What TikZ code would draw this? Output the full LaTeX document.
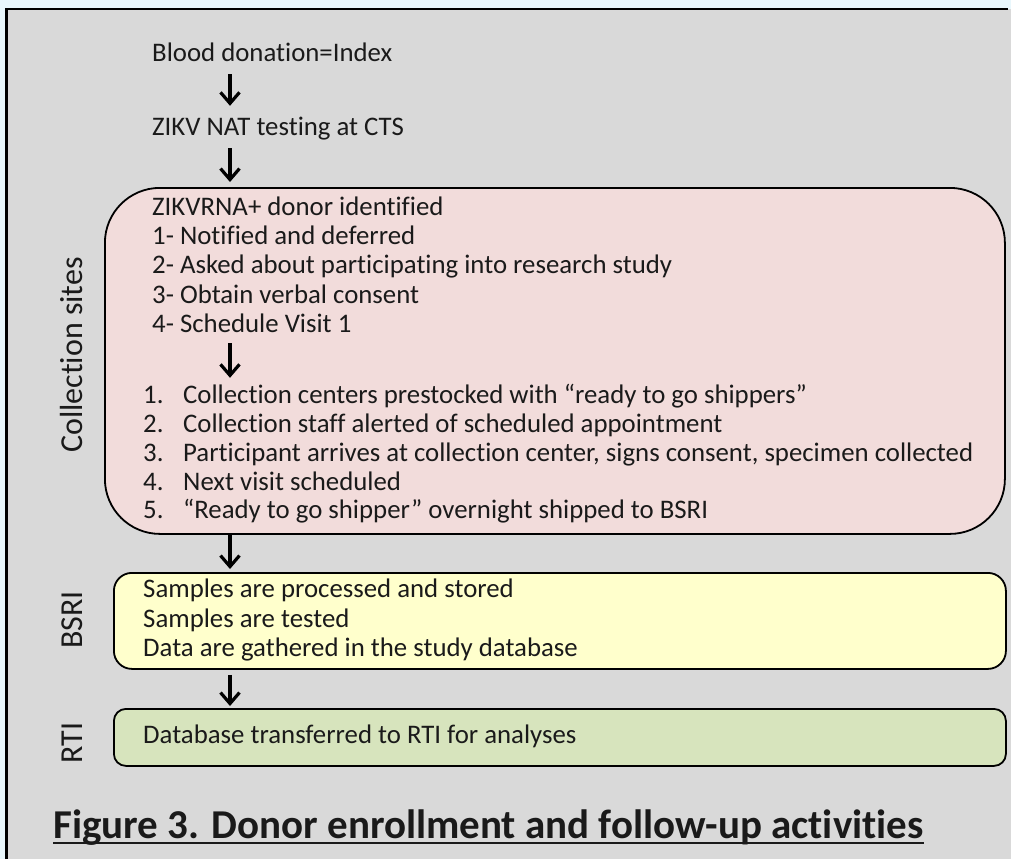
\documentclass[tikz,border=0pt]{standalone}
\usepackage{fontspec}
\setmainfont{Carlito}[Ligatures=NoCommon]
\usetikzlibrary{arrows.meta}
\definecolor{bgblue}{HTML}{E9F7FC}
\definecolor{panel}{HTML}{D9D9D9}
\definecolor{pinkf}{HTML}{F2DCDB}
\definecolor{yellowf}{HTML}{FFFFCC}
\definecolor{greenf}{HTML}{D7E4BD}
\definecolor{ink}{HTML}{1A1A1A}
\tikzset{
  txt/.style={anchor=base west, inner sep=0pt, text height=19pt, text depth=7pt,
    font=\fontsize{26.8}{32}\selectfont, text=ink},
  side/.style={rotate=90, anchor=base, inner sep=0pt, font=\fontsize{32}{38}\selectfont, text=ink},
  box/.style={draw=black, line width=1.8pt, anchor=north west, inner sep=0pt},
  arr/.style={line width=3.2pt, -{Straight Barb[length=11pt,width=19pt]}},
}
\newcommand{\itm}[2]{\makebox[40pt][l]{#1}#2}
\begin{document}
\begin{tikzpicture}[x=1pt,y=-1pt]
\useasboundingbox (0,0) rectangle (1011,859);
\fill[bgblue] (0,0) rectangle (1011,859);
\fill[panel] (6.5,9) rectangle (1011,859);
\draw[line width=2.6pt] (6.5,859) -- (6.5,9) -- (1008,9);

\coordinate (axis) at (230,0);

% top texts
\node[txt] (blood) at (152,61) {Blood donation=Index};
\node[txt] (zikv) at (152,135) {ZIKV NAT testing at CTS};

% boxes
\node[box, fill=pinkf, rounded corners=55pt, minimum width=900pt, minimum height=346pt] (pink) at (104,187) {};
\node[box, fill=yellowf, rounded corners=18pt, minimum width=892pt, minimum height=96pt] (yellow) at (113,572) {};
\node[box, fill=greenf, rounded corners=12pt, minimum width=892pt, minimum height=57pt] (green) at (113,708) {};

% pink box texts
\node[txt] (ident) at (152,215) {ZIKVRNA+ donor identified};
\node[txt] (s1) at (152,244) {1- Notified and deferred};
\node[txt] (s2) at (152,273) {2- Asked about participating into research study};
\node[txt] (s3) at (152,303) {3- Obtain verbal consent};
\node[txt] (visit) at (152,332) {4- Schedule Visit 1};

\node[txt] (l1) at (143,403) {\itm{1.}{Collection centers prestocked with “ready to go shippers”}};
\node[txt] (l2) at (143,432) {\itm{2.}{Collection staff alerted of scheduled appointment}};
\node[txt] (l3) at (143,461) {\itm{3.}{Participant arrives at collection center, signs consent, specimen collected}};
\node[txt] (l4) at (143,490) {\itm{4.}{Next visit scheduled}};
\node[txt] (l5) at (143,518) {\itm{5.}{“Ready to go shipper” overnight shipped to BSRI}};

% yellow box texts
\node[txt] (y1) at (143,597) {Samples are processed and stored};
\node[txt] (y2) at (143,627) {Samples are tested};
\node[txt] (y3) at (143,656) {Data are gathered in the study database};

% green box text
\node[txt] (g1) at (143,743) {Database transferred to RTI for analyses};

% side labels
\node[side] (lcoll) at (82,355) {Collection sites};
\node[side] (lbsri) at (82,620) {BSRI};
\node[side] (lrti) at (82,743) {RTI};

% arrows
\draw[arr, shorten <=6pt, shorten >=10pt] (blood.south -| axis) -- (zikv.north -| axis);
\draw[arr, shorten <=6pt, shorten >=5pt] (zikv.south -| axis) -- (pink.north -| axis);
\draw[arr, shorten <=4pt, shorten >=6pt] (visit.south -| axis) -- (l1.north -| axis);
\draw[arr, shorten >=3pt] (pink.south -| axis) -- (yellow.north -| axis);
\draw[arr, shorten <=5pt, shorten >=2pt] (yellow.south -| axis) -- (green.north -| axis);

% caption
\node[anchor=base west, inner sep=0pt, font=\bfseries\fontsize{41}{49}\selectfont, text=ink] (cap) at (53,838) {Figure 3. Donor enrollment and follow-up activities};
\draw[line width=2.6pt, ink] ([yshift=-5pt]cap.base west) -- ([yshift=-5pt]cap.base east);
\end{tikzpicture}
\end{document}
